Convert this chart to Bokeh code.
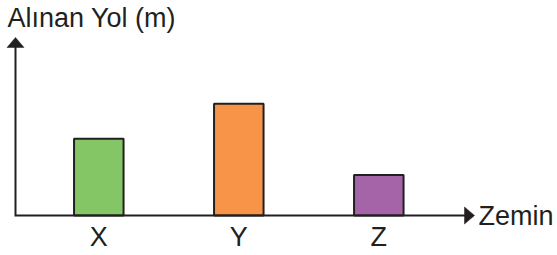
from bokeh.plotting import figure
from bokeh.models import Range1d, ColumnDataSource
from bokeh.embed import file_html
from bokeh.resources import INLINE
from bokeh.core.properties import value

# ---- data ----
categories = ["X", "Y", "Z"]
distances = [55, 80, 29]
bar_colors = ["#84c665", "#f79447", "#a564a8"]
y_title = "Alınan Yol (m)"
x_title = "Zemin"

# ---- layout constants (pixels) ----
W, H = 557, 255
PX_PER_CAT = 140.0          # px per category slot
PX_PER_UNIT = 1.396         # px per value unit
FIRST_CENTER_PX = 98.3      # px from frame left to first bar centre
BASELINE_PX = 215.0         # px from frame top to baseline
TEXT_SHIFT = 9.5            # px correction of rendered text baseline
INK = "#231f20"
FONT = value("Liberation Sans")
FSIZE = value("27px")

x_start = 1 - FIRST_CENTER_PX / PX_PER_CAT
x_end = x_start + W / PX_PER_CAT
y_end = BASELINE_PX / PX_PER_UNIT
y_start = -(H - BASELINE_PX) / PX_PER_UNIT

def dx(px):
    return px / PX_PER_CAT

def dy(px):
    return px / PX_PER_UNIT

p = figure(width=W, height=H, output_backend="svg", toolbar_location=None,
           x_range=Range1d(x_start, x_end), y_range=Range1d(y_start, y_end),
           x_axis_type=None, y_axis_type=None, min_border=0,
           outline_line_color=None, background_fill_color="white",
           border_fill_color="white")

xs = list(range(1, len(categories) + 1))
src = ColumnDataSource(dict(x=xs, top=distances, color=bar_colors, cat=categories))

p.vbar(x="x", top="top", bottom=0, width=dx(49.5), source=src,
       fill_color="color", line_color=INK, line_width=2)

# axes with arrows
ax_x = x_start + dx(15)
x_tip = x_start + dx(474)
y_tip = dy(BASELINE_PX - 37)
p.line(x=[x_tip - dx(6), ax_x, ax_x], y=[0, 0, y_tip - dy(6)],
       line_color=INK, line_width=2, line_join="miter")
head_len, head_half = 10, 8.5
p.patches(
    xs=[[ax_x - dx(head_half), ax_x + dx(head_half), ax_x],
        [x_tip - dx(head_len), x_tip - dx(head_len), x_tip]],
    ys=[[y_tip - dy(head_len), y_tip - dy(head_len), y_tip],
        [dy(head_half), -dy(head_half), 0]],
    fill_color=INK, line_color=INK, line_width=0.5)

# category labels
p.text(x="x", y=dy(-30.7 + TEXT_SHIFT), text="cat", source=src, text_font=FONT,
       text_font_size=FSIZE, text_align="center", text_baseline="alphabetic",
       text_color=INK)

# axis titles
p.text(x=[x_start + dx(7)], y=[dy(BASELINE_PX - 27.3 + TEXT_SHIFT)], text=[y_title],
       text_font=FONT, text_font_size=FSIZE, text_align="left",
       text_baseline="alphabetic", text_color=INK)
p.text(x=[x_start + dx(478)], y=[dy(-10.3 + TEXT_SHIFT)], text=[x_title],
       text_font=FONT, text_font_size=FSIZE, text_align="left",
       text_baseline="alphabetic", text_color=INK)

open("out.html", "w").write(file_html(p, INLINE))
